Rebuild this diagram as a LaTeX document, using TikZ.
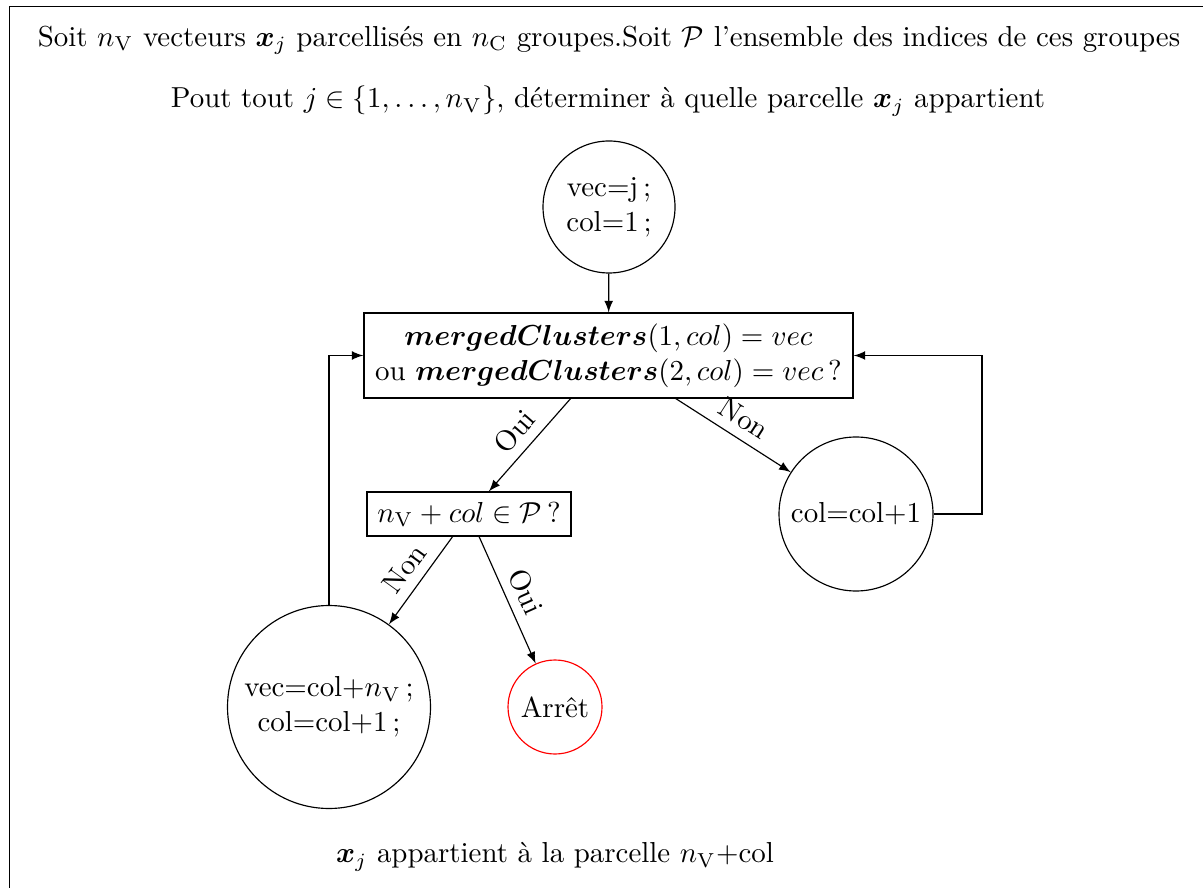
\documentclass[tikz,border=0pt]{standalone}
\usepackage{amsmath,amssymb,bm}
\usetikzlibrary{arrows.meta}
\newlength\pxl
\setlength\pxl{0.346pt}
\begin{document}
\begin{tikzpicture}[x=0.346pt,y=-0.346pt,>=latex,
  circ/.style={draw,circle,align=center,inner sep=1pt},
  boxn/.style={draw,rectangle,align=center,inner sep=2pt},
  lab/.style={sloped,above,midway},
  txt/.style={inner sep=0pt}]
\useasboundingbox (0,0) rectangle (1203,888);
\draw (1203,6.7) -- (9.5,6.7) -- (9.5,888);
\node[txt] (t1) at (609,40) {Soit $n_{\mathrm{V}}$ vecteurs $\boldsymbol{x}_j$ parcellisés en $n_{\mathrm{C}}$ groupes.Soit $\mathcal{P}$ l'ensemble des indices de ces groupes};
\node[txt] (t2) at (608,101) {Pout tout $j\in\{1,\dots,n_{\mathrm{V}}\}$, déterminer à quelle parcelle $\boldsymbol{x}_j$ appartient};
\node[circ,minimum size=132*\pxl] (c1) at (609,207) {vec=j\,;\\col=1\,;};
\node[boxn,minimum width=489*\pxl,minimum height=85*\pxl] (b1) at (608.5,355.5)
  {$\boldsymbol{mergedClusters}(1,col)=vec$\\ou $\boldsymbol{mergedClusters}(2,col)=vec$\,?};
\node[boxn,minimum width=204*\pxl,minimum height=44*\pxl] (b2) at (469,514) {$n_{\mathrm{V}}+col\in\mathcal{P}$\,?};
\node[circ,minimum size=154*\pxl] (c2) at (856,514) {col=col+1};
\node[circ,minimum size=203*\pxl] (c3) at (329,707) {vec=col+$n_{\mathrm{V}}$\,;\\col=col+1\,;};
\node[circ,draw=red,minimum size=94*\pxl] (stop) at (555,707) {Arrêt};
\node[txt] (t3) at (555,857) {$\boldsymbol{x}_j$ appartient à la parcelle $n_{\mathrm{V}}$+col};
\coordinate (r) at (982,514);
\draw[->] (c1) -- (b1);
\draw[->] (b1) -- node[lab] {Oui} (b2);
\draw[->] (b1) -- node[lab] {Non} (c2);
\draw[->] (b2) -- node[lab] {Non} (c3);
\draw[->] (b2) -- node[lab] {Oui} (stop);
\draw[->] (c3.north) |- (b1.west);
\draw[->] (c2.east) -- (r) |- (b1.east);
\end{tikzpicture}
\end{document}
